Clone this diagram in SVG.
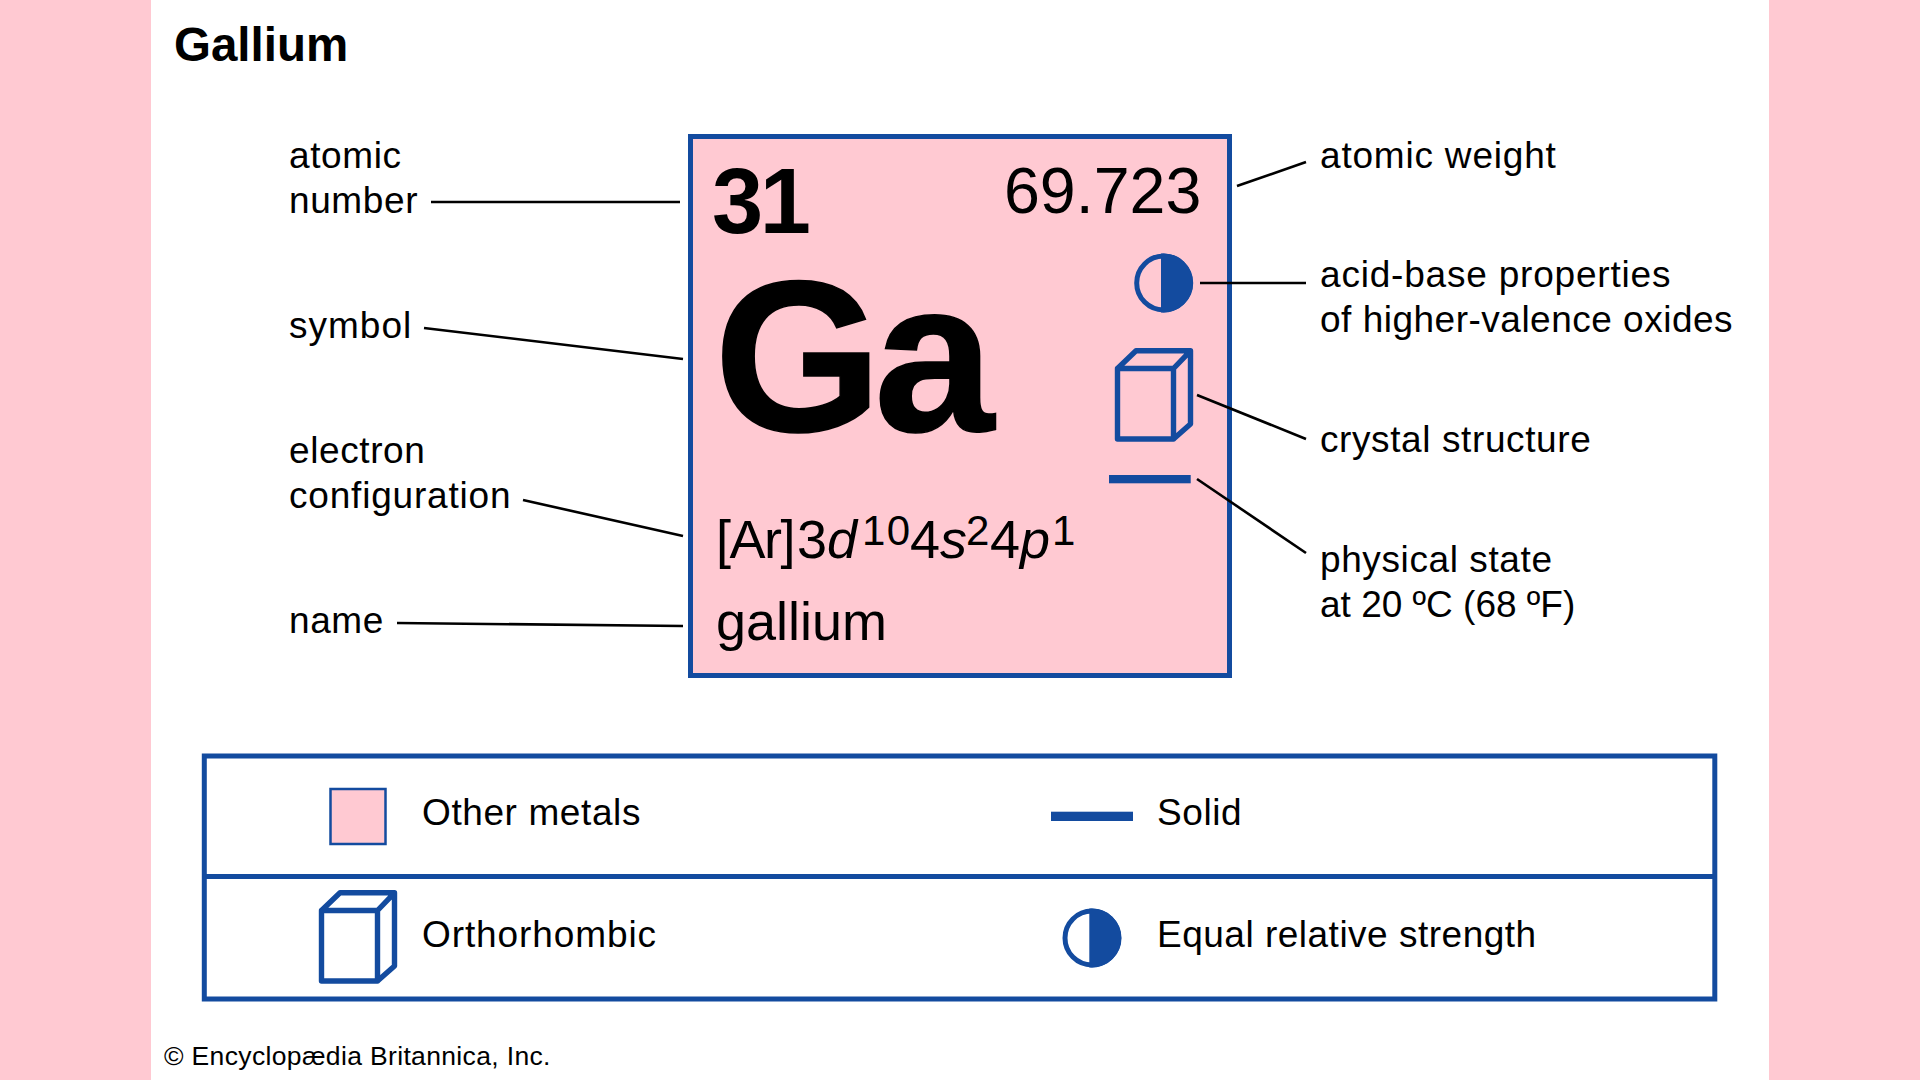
<svg xmlns="http://www.w3.org/2000/svg" width="1920" height="1080" viewBox="0 0 1920 1080">
<style>
text{font-family:"Liberation Sans",Arial,sans-serif;fill:#000}
.l{font-size:37px;letter-spacing:.6px}
.k{stroke:#000;stroke-width:2.6;fill:none}
.b{stroke:#134b9f;fill:none;stroke-linejoin:round}
</style>
<defs>
<g id="cube" class="b" stroke-width="5.4"><path d="M1117.5 368.5H1173.5V439H1117.5ZM1117.5 368.5L1136 350.8H1190.5V424L1173.5 439M1173.5 368.5L1190.5 350.8"/></g>
<g id="half"><circle cx="1163.7" cy="283" r="27" fill="none" stroke="#134b9f" stroke-width="5"/><path d="M1161 253.6A29.5 29.5 0 1 1 1161 312.4Z" fill="#134b9f"/></g>
</defs>
<rect width="1920" height="1080" fill="#fff"/>
<rect width="151" height="1080" fill="#ffc9d2"/>
<rect x="1769" width="151" height="1080" fill="#ffc9d2"/>
<text id="title" x="174" y="61" font-size="47.5" font-weight="700">Gallium</text>
<g id="element">
<rect x="690.5" y="136.5" width="539" height="539" fill="#ffc9d2" stroke="#134b9f" stroke-width="5"/>
<text x="712" y="233" font-size="92" font-weight="700" letter-spacing="-3.5">31</text>
<text x="1004" y="213" font-size="64.5">69.723</text>
<text x="714" y="431" font-size="216" font-weight="700" letter-spacing="-8" stroke="#000" stroke-width="1.5">Ga</text>
<text y="558" font-size="54"><tspan x="716" letter-spacing="-1.5">[Ar]</tspan><tspan x="797">3</tspan><tspan font-style="italic">d</tspan><tspan x="862" font-size="42" dy="-13" letter-spacing="1.5">10</tspan><tspan x="910" dy="13">4</tspan><tspan font-style="italic">s</tspan><tspan x="966" font-size="42" dy="-13">2</tspan><tspan x="990" dy="13">4</tspan><tspan font-style="italic">p</tspan><tspan x="1052" font-size="42" dy="-13">1</tspan></text>
<text x="716" y="640" font-size="54">gallium</text>
<use href="#half"/>
<use href="#cube"/>
<rect x="1109" y="475" width="81.7" height="8.3" fill="#134b9f"/>
</g>
<g id="connectors" class="k">
<path d="M431 202H680"/>
<path d="M424 328L683 359"/>
<path d="M523 500L683 536"/>
<path d="M397 623L683 626"/>
<path d="M1237 186L1306 162"/>
<path d="M1200 283H1306"/>
<path d="M1197 395L1306 439"/>
<path d="M1197 479L1306 553"/>
</g>
<g id="label-atomic-number"><text class="l" x="289" y="168">atomic</text><text class="l" x="289" y="213">number</text></g>
<g id="label-symbol"><text class="l" x="289" y="338" style="letter-spacing:1px">symbol</text></g>
<g id="label-electron"><text class="l" x="289" y="463">electron</text><text class="l" x="289" y="508" style="letter-spacing:.8px">configuration</text></g>
<g id="label-name"><text class="l" x="289" y="633">name</text></g>
<g id="label-weight"><text class="l" x="1320" y="168" style="letter-spacing:.8px">atomic weight</text></g>
<g id="label-acid"><text class="l" x="1320" y="287" style="letter-spacing:.8px">acid-base properties</text><text class="l" x="1320" y="332" style="letter-spacing:.5px">of higher-valence oxides</text></g>
<g id="label-crystal"><text class="l" x="1320" y="452">crystal structure</text></g>
<g id="label-state"><text class="l" x="1320" y="572">physical state</text><text class="l" x="1320" y="617" style="letter-spacing:0">at 20 ºC (68 ºF)</text></g>
<g id="legend">
<rect x="204.3" y="756" width="1510.5" height="243" fill="none" stroke="#134b9f" stroke-width="5"/>
<path d="M204 876.5H1715" stroke="#134b9f" stroke-width="5"/>
<g id="legend-other"><rect x="330.5" y="789" width="55" height="55" fill="#ffc9d2" stroke="#134b9f" stroke-width="2.5"/><text class="l" x="422" y="825">Other metals</text></g>
<g id="legend-solid"><rect x="1051" y="811.7" width="82" height="9.3" fill="#134b9f"/><text class="l" x="1157" y="825">Solid</text></g>
<g id="legend-ortho"><use href="#cube" transform="translate(-796 542)"/><text class="l" x="422" y="947" style="letter-spacing:.9px">Orthorhombic</text></g>
<g id="legend-equal"><use href="#half" transform="translate(-71.7 655)"/><text class="l" x="1157" y="947" style="letter-spacing:.5px">Equal relative strength</text></g>
</g>
<text id="credit" x="164" y="1065" font-size="26.5" letter-spacing=".35">© Encyclopædia Britannica, Inc.</text>
</svg>
